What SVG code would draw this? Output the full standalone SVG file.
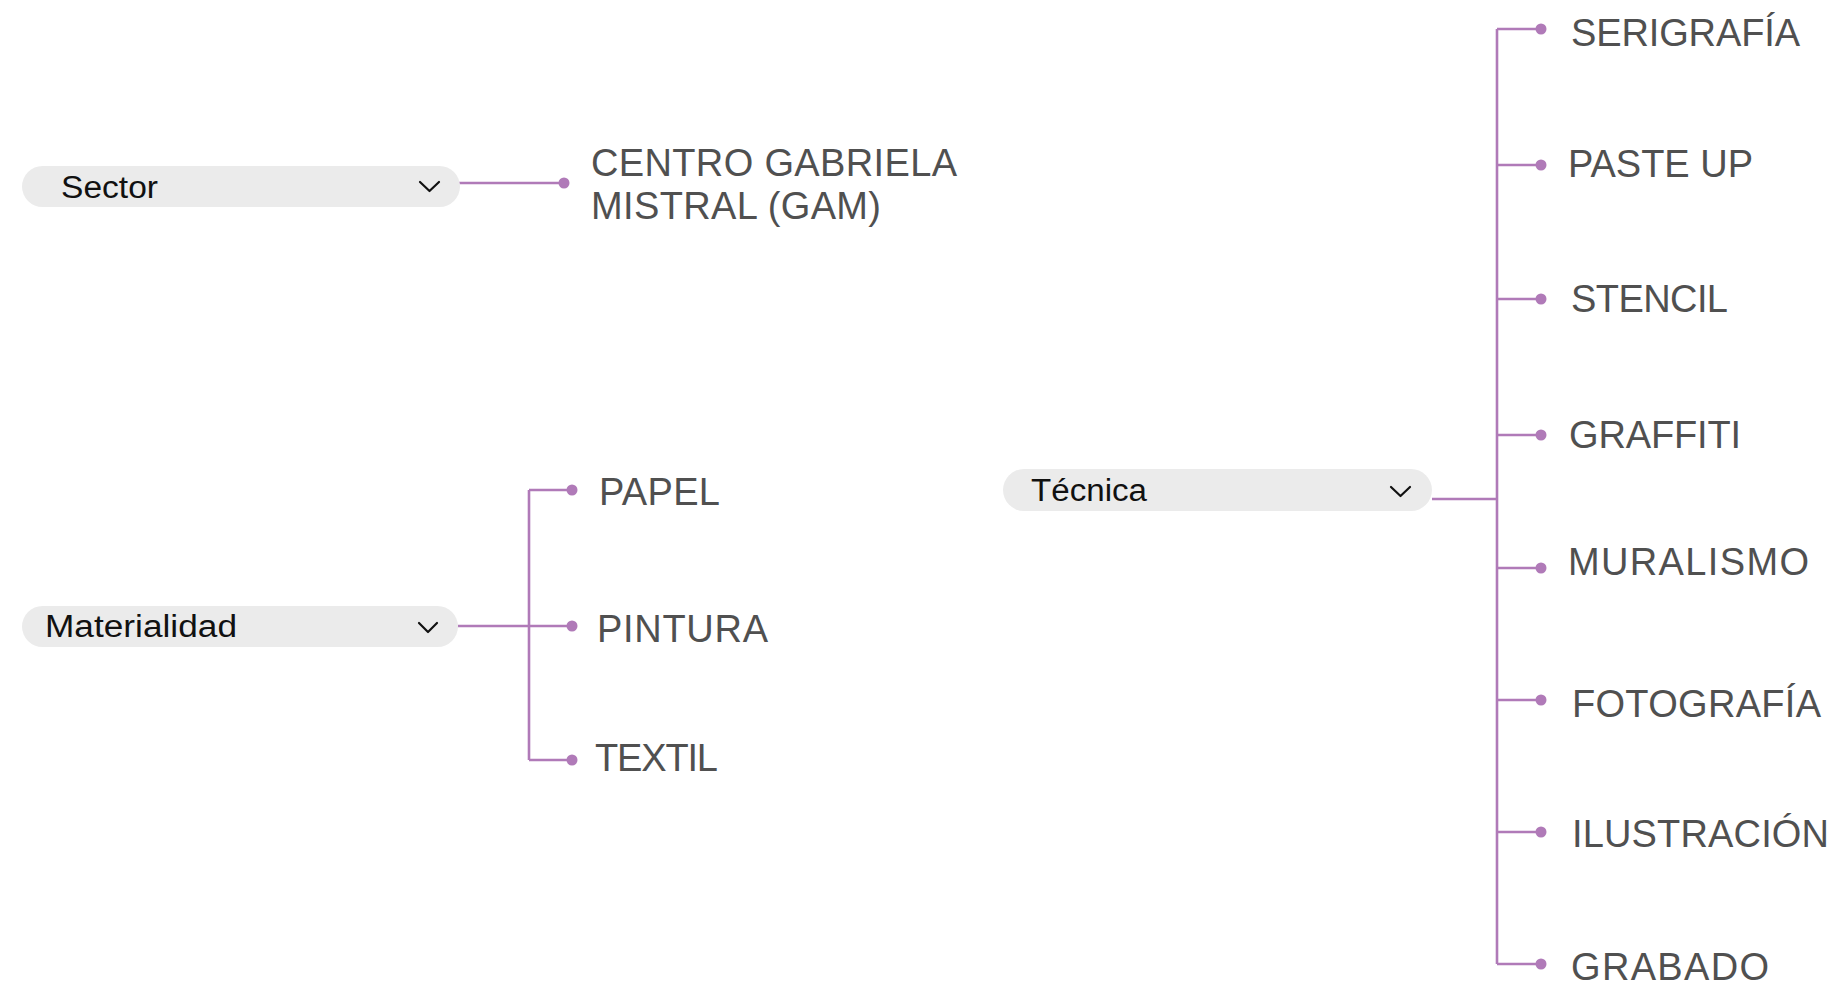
<svg xmlns="http://www.w3.org/2000/svg" width="1835" height="985" viewBox="0 0 1835 985">
<style>
.pill{fill:#ebebeb}
.ptxt{font-family:"Liberation Sans",Arial,sans-serif;font-size:31px;fill:#111}
.chev{fill:none;stroke:#111;stroke-width:2.2;stroke-linecap:round;stroke-linejoin:round}
.lbl{font-family:"Liberation Sans",Arial,sans-serif;font-size:38px;fill:#505050}
.ln{fill:none;stroke:#b07ab8;stroke-width:2.6}
.dot{fill:#b07ab8}
</style>
<rect width="1835" height="985" fill="#ffffff"/>
<g id="connectors">
  <path class="ln" d="M459 183H564"/>
  <path class="ln" d="M458 626H572M529 490V760M529 490H572M529 760H572"/>
  <path class="ln" d="M1432 499H1497M1497 29V964M1497 29H1541M1497 165H1541M1497 299H1541M1497 435H1541M1497 568H1541M1497 700H1541M1497 832H1541M1497 964H1541"/>
  <circle class="dot" cx="564" cy="183" r="5.5"/>
  <circle class="dot" cx="572" cy="490" r="5.5"/>
  <circle class="dot" cx="572" cy="626" r="5.5"/>
  <circle class="dot" cx="572" cy="760" r="5.5"/>
  <circle class="dot" cx="1541" cy="29" r="5.5"/>
  <circle class="dot" cx="1541" cy="165" r="5.5"/>
  <circle class="dot" cx="1541" cy="299" r="5.5"/>
  <circle class="dot" cx="1541" cy="435" r="5.5"/>
  <circle class="dot" cx="1541" cy="568" r="5.5"/>
  <circle class="dot" cx="1541" cy="700" r="5.5"/>
  <circle class="dot" cx="1541" cy="832" r="5.5"/>
  <circle class="dot" cx="1541" cy="964" r="5.5"/>
</g>
<g id="sector">
  <rect class="pill" x="22" y="166" width="438" height="41" rx="20.5"/>
  <text class="ptxt" x="61" y="198" textLength="97" lengthAdjust="spacingAndGlyphs">Sector</text>
  <polyline class="chev" points="420,182 429.5,191 439,182"/>
</g>
<g id="materialidad">
  <rect class="pill" x="22" y="606" width="436" height="41" rx="20.5"/>
  <text class="ptxt" x="45" y="637" textLength="192" lengthAdjust="spacingAndGlyphs">Materialidad</text>
  <polyline class="chev" points="419,623 428,632 437,623"/>
</g>
<g id="tecnica">
  <rect class="pill" x="1003" y="469" width="429" height="42" rx="21"/>
  <text class="ptxt" x="1031" y="501" textLength="116" lengthAdjust="spacingAndGlyphs">Técnica</text>
  <polyline class="chev" points="1391,487 1400.5,496 1410,487"/>
</g>
<g id="gam">
  <text class="lbl" x="591" y="176" textLength="366">CENTRO GABRIELA</text>
  <text class="lbl" x="591" y="219" textLength="290">MISTRAL (GAM)</text>
</g>
<g id="papel"><text class="lbl" x="599" y="505" textLength="121">PAPEL</text></g>
<g id="pintura"><text class="lbl" x="597" y="642" textLength="171">PINTURA</text></g>
<g id="textil"><text class="lbl" x="595" y="771" textLength="123">TEXTIL</text></g>
<g id="serigrafia"><text class="lbl" x="1571" y="46" textLength="229">SERIGRAFÍA</text></g>
<g id="pasteup"><text class="lbl" x="1568" y="177" textLength="185">PASTE UP</text></g>
<g id="stencil"><text class="lbl" x="1571" y="312" textLength="157">STENCIL</text></g>
<g id="graffiti"><text class="lbl" x="1569" y="448" textLength="172">GRAFFITI</text></g>
<g id="muralismo"><text class="lbl" x="1568" y="575" textLength="241">MURALISMO</text></g>
<g id="fotografia"><text class="lbl" x="1572" y="717" textLength="249">FOTOGRAFÍA</text></g>
<g id="ilustracion"><text class="lbl" x="1572" y="847" textLength="257">ILUSTRACIÓN</text></g>
<g id="grabado"><text class="lbl" x="1571" y="980" textLength="198">GRABADO</text></g>
</svg>
